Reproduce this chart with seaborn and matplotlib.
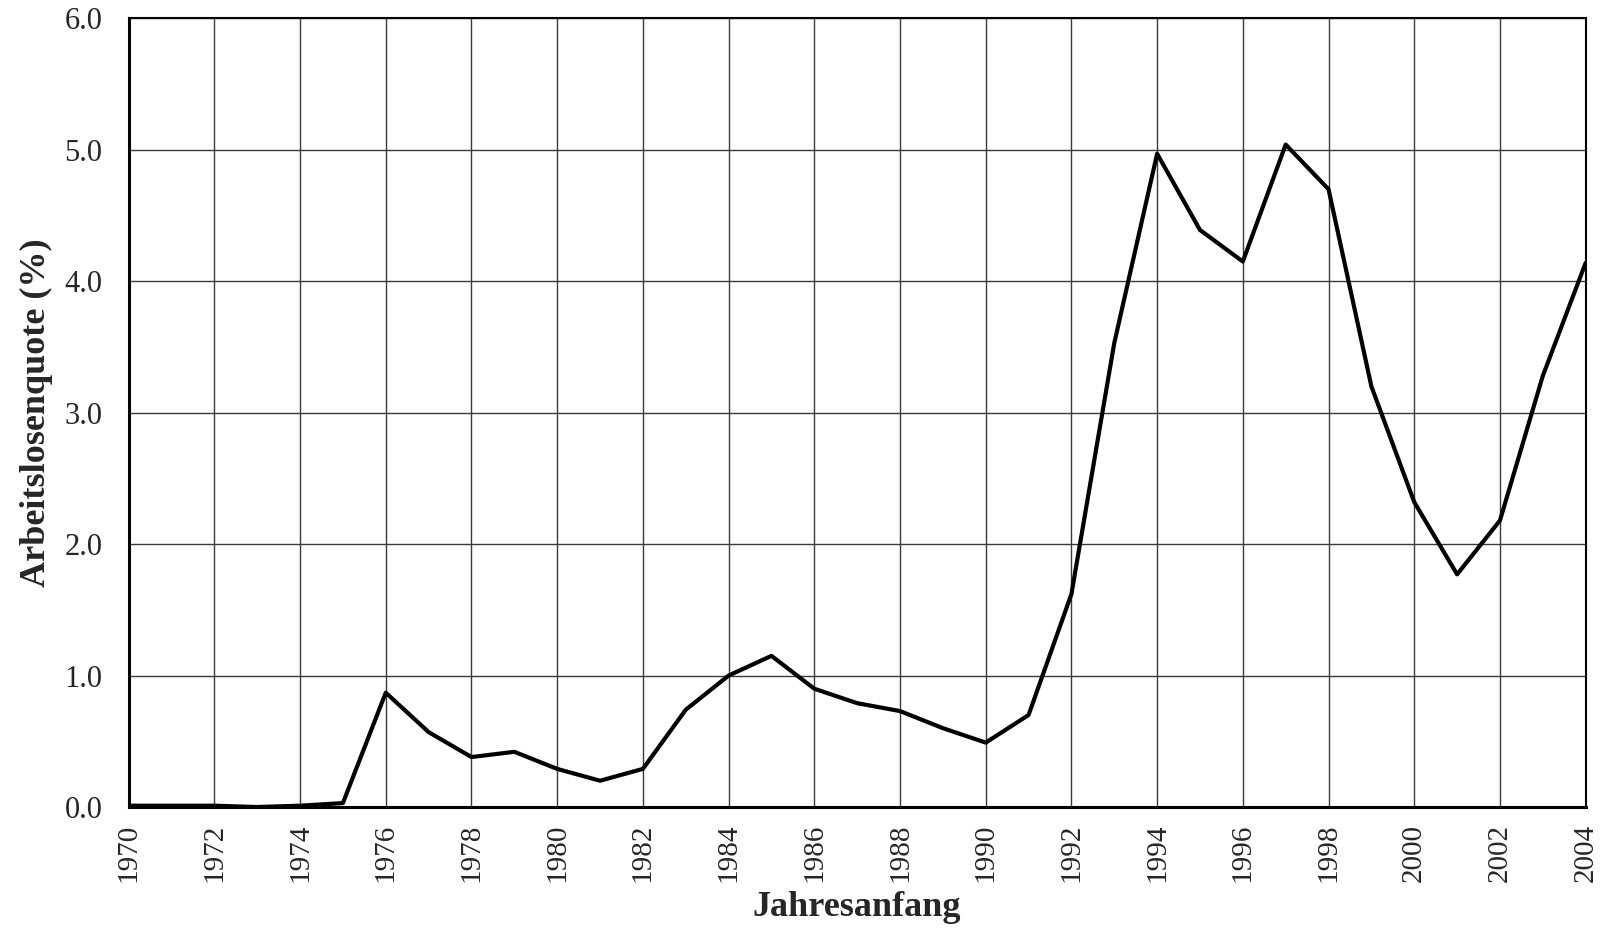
import numpy as np
import pandas as pd

import matplotlib
matplotlib.use("Agg")
import matplotlib.pyplot as plt
import seaborn as sns

# Arbeitslosenquote per Jahresanfang
years = list(range(1970, 2005))
quote = [
    0.01, 0.01, 0.01, 0.00, 0.01, 0.03, 0.87, 0.57, 0.38, 0.42,
    0.29, 0.20, 0.29, 0.74, 1.00, 1.15, 0.90, 0.79, 0.73, 0.60,
    0.49, 0.70, 1.62, 3.53, 4.97, 4.39, 4.15, 5.04, 4.70, 3.20,
    2.32, 1.77, 2.18, 3.28, 4.14,
]
x_ticks = list(range(1970, 2005, 2))
y_ticks = [0.0, 1.0, 2.0, 3.0, 4.0, 5.0, 6.0]

df = pd.DataFrame({"Jahr": years, "Quote": quote})

sns.set_style("white")
plt.rcParams["font.family"] = ["Liberation Serif", "DejaVu Serif"]

fig = plt.figure(figsize=(16.02, 9.51), dpi=100)
ax = fig.add_axes([0.0803, 0.1514, 0.9095, 0.8293])

sns.lineplot(data=df, x="Jahr", y="Quote", ax=ax, color="black", linewidth=3.0)

ax.set_xlim(1970, 2004)
ax.set_ylim(0, 6)
ax.set_xticks(x_ticks)
ax.set_xticklabels([str(t) for t in x_ticks], rotation=90, fontsize=21)
ax.set_yticks(y_ticks)
ax.set_yticklabels([f"{t:.1f}" for t in y_ticks], fontsize=22)

ax.grid(True, color="#3a3a3a", linewidth=1.0)
ax.set_axisbelow(True)

for side in ["left", "bottom"]:
    ax.spines[side].set_linewidth(2.2)
    ax.spines[side].set_color("black")
for side in ["top", "right"]:
    ax.spines[side].set_linewidth(1.5)
    ax.spines[side].set_color("black")

ax.tick_params(axis="both", direction="out", length=8, width=1.0, color="#3a3a3a")
ax.tick_params(axis="y", pad=11)
ax.tick_params(axis="x", pad=4)

ax.set_xlabel("Jahresanfang", fontsize=26, fontweight="bold", labelpad=6)
ax.set_ylabel("Arbeitslosenquote (%)", fontsize=26, fontweight="bold", labelpad=8)

fig.savefig("out.png", dpi=100)
